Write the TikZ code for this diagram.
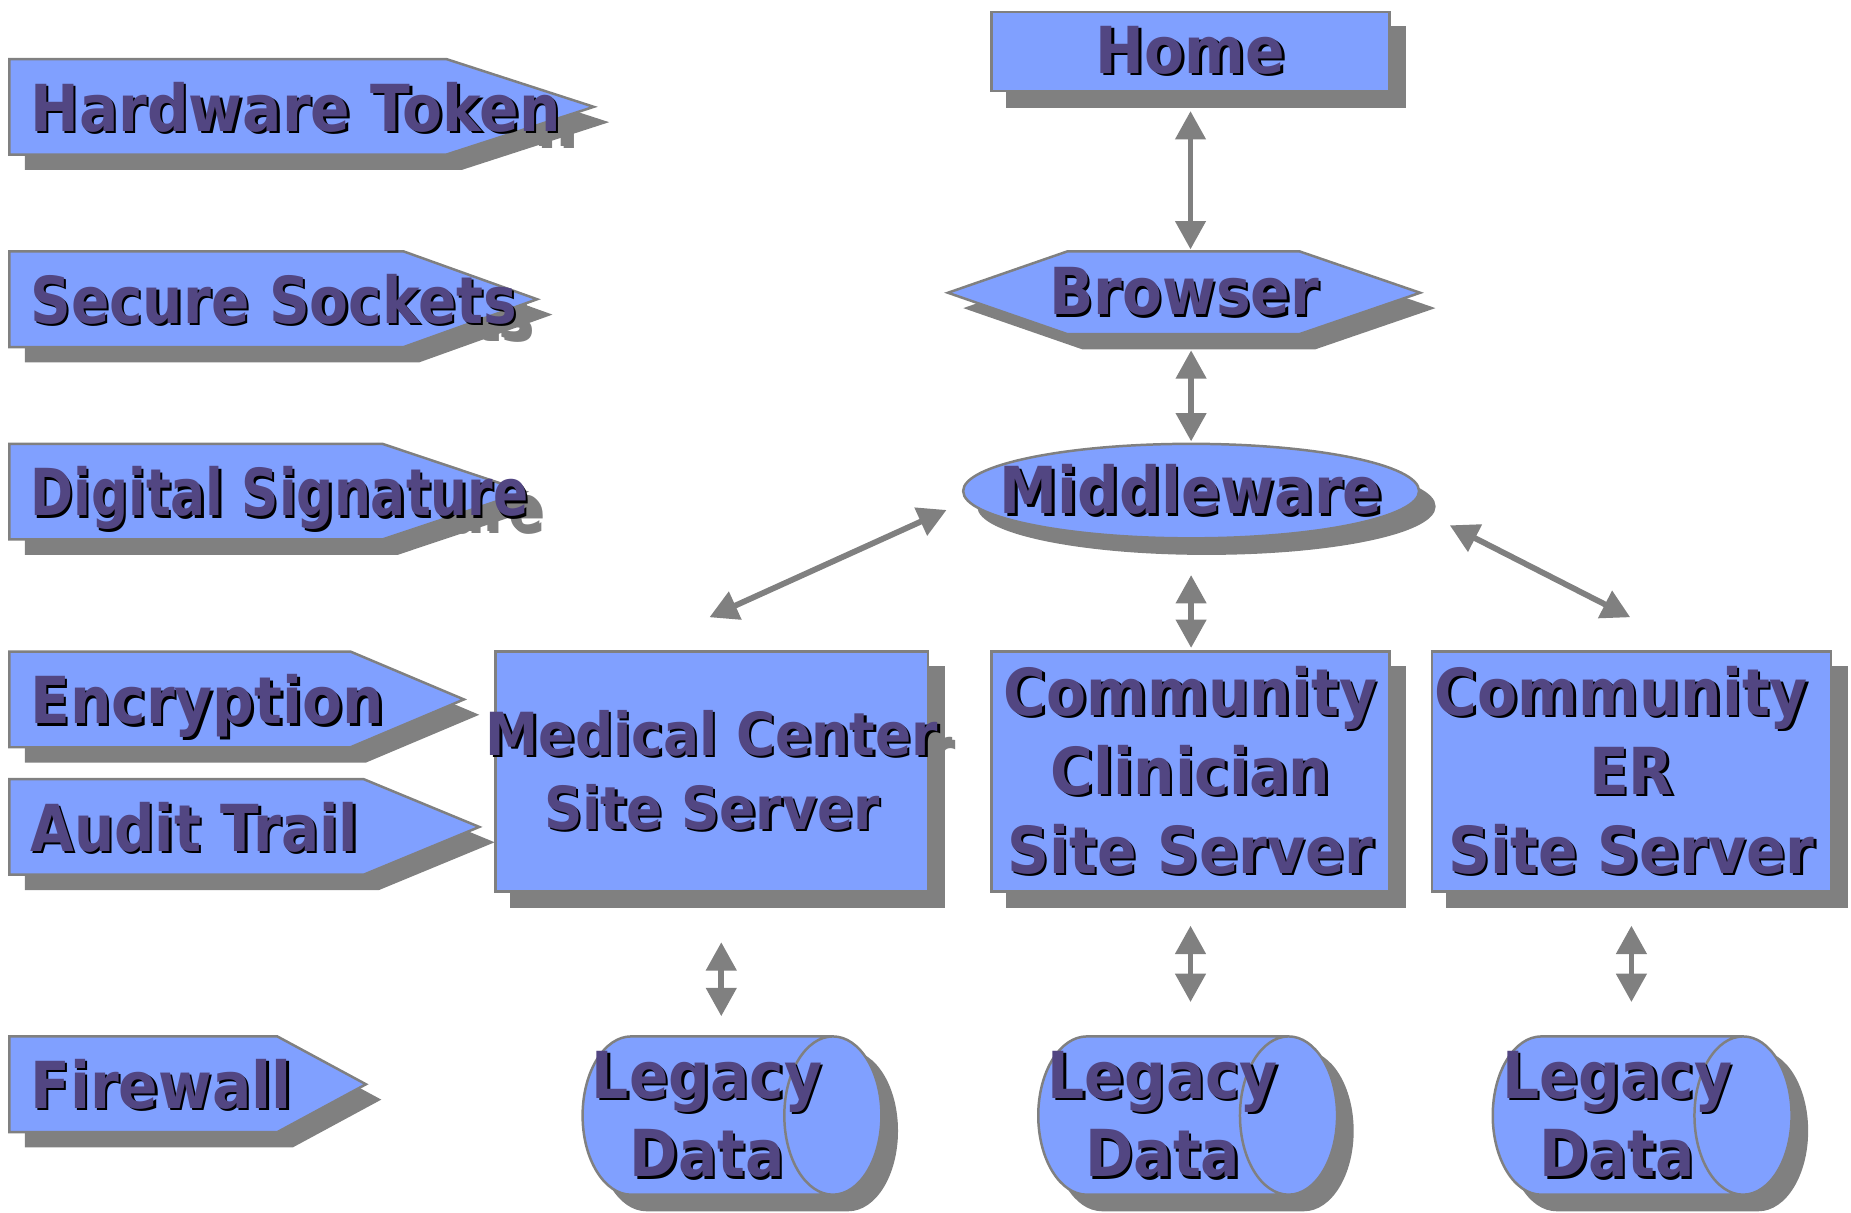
\documentclass[tikz,border=0pt]{standalone}
\usepackage{fontspec}
\usepackage{graphicx}
\setmainfont{DejaVu Sans}[FakeStretch=0.9]
\usetikzlibrary{arrows.meta, shapes.geometric, positioning, calc}

\definecolor{boxfill}{RGB}{128,160,255}
\definecolor{ink}{RGB}{82,70,130}
\definecolor{dropgray}{RGB}{128,128,128}

% raised lettering: dark copy under the text
\newcommand{\embcol}{black}
\newcommand{\emb}[1]{\makebox[0pt][l]{\kern0.6pt\raisebox{-0.6pt}{\color{\embcol}#1}}#1}
\newcommand{\cemb}[1]{\makebox[0pt]{\emb{#1}}}

\tikzset{
  label/.style={text=ink, inner sep=0pt, align=center, font=\bfseries\fontsize{15.6}{19}\selectfont},
  block/.style={label, fill=boxfill, draw=dropgray, line width=0.6pt},
  ghosttext/.style={text=dropgray, execute at begin node={\renewcommand{\embcol}{dropgray}}},
  ghost/.style={ghosttext, fill=dropgray, draw=dropgray, shift={(13,13)}},
  link/.style={draw=dropgray, line width=1.4pt,
    {Triangle[width=0.25cm,length=0.24cm]}-{Triangle[width=0.25cm,length=0.24cm]}},
}

% shadow copy first, then the element itself
\newcommand{\elem}[4]{%
  \node[#1, ghost] at (#3) {#4};
  \node[#1] (#2) at (#3) {#4};}

\begin{document}
\begin{tikzpicture}[x=0.01cm, y=-0.01cm]
  \useasboundingbox (0,0) rectangle (1568,1027);

  % security tags on the left
  \foreach \tp/\cx/\tx/\sx/\lbl [count=\i] in {50/378/503/1/Hardware Token, 213/342/455/0.97/Secure Sockets,
      376/324/445/0.89/Digital Signature, 552/297/393/1/Encryption, 660/308/406/0.97/Audit Trail, 878/235/310/1/Firewall}{
    \begin{scope}[shift={(13,13)}]
      \fill[dropgray] (8,\tp) -- (\cx,\tp) -- (\tx,\tp+40.5) -- (\cx,\tp+81) -- (8,\tp+81) -- cycle;
      \node[label, ghosttext, anchor=base west] at (25,\tp+61) {\scalebox{\sx}[1]{\emb{\lbl}}};
    \end{scope}
    \filldraw[fill=boxfill, draw=dropgray, line width=0.6pt]
      (8,\tp) -- (\cx,\tp) -- (\tx,\tp+40.5) -- (\cx,\tp+81) -- (8,\tp+81) -- cycle;
    \node[label, anchor=base west] (tag\i) at (25,\tp+61) {\scalebox{\sx}[1]{\emb{\lbl}}};
  }

  % main chain
  \elem{block, minimum width=3.37cm, minimum height=0.67cm}{home}{1008.5,43.5}{\cemb{Home}}
  \begin{scope}[shift={(13,13)}]
    \fill[dropgray] (803,248) -- (904,213) -- (1101,213) -- (1203,248) -- (1101,283) -- (904,283) -- cycle;
  \end{scope}
  \filldraw[fill=boxfill, draw=dropgray, line width=0.6pt]
    (803,248) -- (904,213) -- (1101,213) -- (1203,248) -- (1101,283) -- (904,283) -- cycle;
  \node[label, minimum width=4cm, minimum height=0.70cm] (br) at (1003,248) {\cemb{Browser}};
  \elem{block, ellipse, minimum width=3.86cm, minimum height=0.80cm}{mw}{1009,416}{\cemb{Middleware}}

  % site servers
  \elem{block, minimum width=3.66cm, minimum height=2.03cm, font=\bfseries\fontsize{14.3}{17.8}\selectfont}{med}{603,653.5}{\cemb{Medical Center}\\\cemb{Site Server}}
  \elem{block, minimum width=3.37cm, minimum height=2.03cm}{cli}{1008.5,653.5}{\cemb{Community}\\\cemb{Clinician}\\\cemb{Site Server}}
  \elem{block, minimum width=3.38cm, minimum height=2.03cm}{er}{1382,653.5}{\cemb{Community\ }\\\cemb{ER}\\\cemb{Site Server}}

  % legacy stores
  \foreach \x [count=\i] in {599,985,1370}{
    \elem{block, cylinder, aspect=0.75, minimum width=1.34cm, minimum height=2.53cm}{leg\i}{\x,945}{\cemb{Legacy}\\\cemb{Data}}
  }

  \draw[link, shorten <=0.16cm, shorten >=0.01cm] (home.south) -- (home.south |- br.north);
  \draw[link, shorten <=0.13cm, shorten >=0.01cm] (mw.north |- br.south) -- (mw.north);
  \draw[link, shorten <=0.30cm, shorten >=0.02cm] (mw.south) -- (mw.south |- cli.north);
  \draw[link] ([shift={(-13,16)}]mw.west) -- ([shift={(-2,-28)}]med.north);
  \draw[link] ([shift={(25,29)}]mw.east) -- ([shift={(-1,-28)}]er.north);
  \draw[link, shorten <=0.42cm, shorten >=0.16cm] ([xshift=0.08cm]med.south) -- ([xshift=0.08cm]med.south |- leg1.north);
  \draw[link, shorten <=0.28cm, shorten >=0.28cm] (cli.south) -- (cli.south |- leg2.north);
  \draw[link, shorten <=0.28cm, shorten >=0.28cm] (er.south) -- (er.south |- leg3.north);
\end{tikzpicture}
\end{document}
